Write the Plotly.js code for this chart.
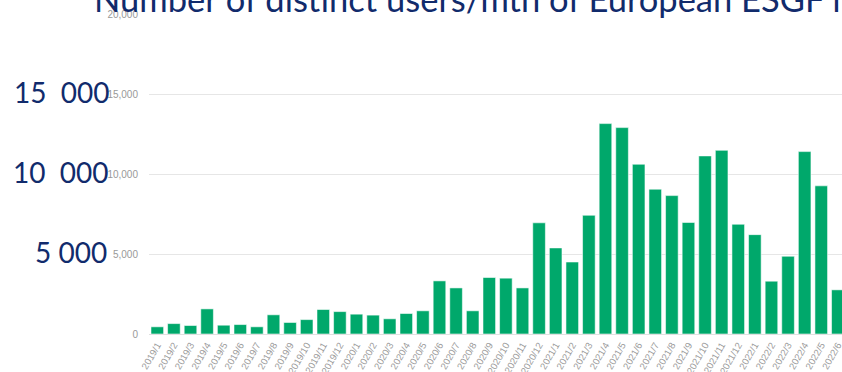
<!DOCTYPE html>
<html>
<head>
<meta charset="utf-8">
<script src="https://cdn.plot.ly/plotly-3.0.1.min.js"></script>
<style>html,body{margin:0;padding:0;overflow:hidden;background:#fff}#chart{width:842px;height:372px}</style>
</head>
<body>
<div id="chart"></div>
<script>
const months = ["2019/1","2019/2","2019/3","2019/4","2019/5","2019/6","2019/7","2019/8","2019/9","2019/10","2019/11","2019/12",
"2020/1","2020/2","2020/3","2020/4","2020/5","2020/6","2020/7","2020/8","2020/9","2020/10","2020/11","2020/12",
"2021/1","2021/2","2021/3","2021/4","2021/5","2021/6","2021/7","2021/8","2021/9","2021/10","2021/11","2021/12",
"2022/1","2022/2","2022/3","2022/4","2022/5","2022/6"];
const users = [450,650,530,1570,550,590,450,1200,720,900,1530,1400,
1240,1180,950,1280,1450,3320,2880,1450,3530,3490,2880,6950,
5380,4500,7420,13150,12900,10610,9050,8650,6970,11130,11480,6860,
6210,3300,4860,11400,9260,2760];
const bigLabels = ["15\u00a0\u00a0000","10\u00a0\u00a0000","5\u00a0000"];
const bigLabelValues = [15000,10000,5000];
const titleText = "Number of distinct users/mth of European ESGF nodes";

const navy = "#112b6c";
const annotations = bigLabels.map((t,i)=>({
  text:t, xref:"paper", yref:"y", x:0, y:bigLabelValues[i], xanchor:"right", yanchor:"middle",
  xshift:[-37,-38,-40][i], yshift:2, showarrow:false,
  font:{family:"Lato, 'Open Sans', sans-serif", size:28, color:navy}
}));
annotations.push({
  text:titleText, xref:"paper", yref:"paper", x:0, y:0.9875, xanchor:"left", yanchor:"bottom",
  xshift:-57, yshift:-3, showarrow:false,
  font:{family:"Lato, 'Open Sans', sans-serif", size:34.5, color:navy}
});

const trace = {
  type:"bar", x:months, y:users,
  marker:{color:"#00a86b", line:{color:"rgba(255,255,255,0.55)", width:1}},
  hoverinfo:"skip"
};
const layout = {
  width:842, height:372,
  margin:{l:149, r:0, t:14, b:38, pad:0},
  paper_bgcolor:"#fff", plot_bgcolor:"#fff",
  bargap:0.24, showlegend:false,
  xaxis:{type:"category", range:[-0.5,41.25], tickangle:-60, automargin:false,
    tickfont:{family:"'Liberation Sans', Arial, sans-serif", size:9.5, color:"#999"},
    ticks:"outside", ticklen:1, tickcolor:"rgba(0,0,0,0)", showgrid:false, showline:false, zeroline:false},
  yaxis:{range:[0,20000], tickvals:[0,5000,10000,15000,20000], ticktext:["0","5,000","10,000","15,000","20,000"],
    automargin:false, showgrid:true, gridcolor:"#e6e6e6", gridwidth:1, zeroline:true, zerolinecolor:"#e0e0e0", zerolinewidth:1,
    ticks:"outside", ticklen:8, tickcolor:"rgba(0,0,0,0)",
    tickfont:{family:"'Liberation Sans', Arial, sans-serif", size:10, color:"#999"}},
  annotations:annotations
};
Plotly.newPlot("chart",[trace],layout,{staticPlot:true,displayModeBar:false});
</script>
</body>
</html>
